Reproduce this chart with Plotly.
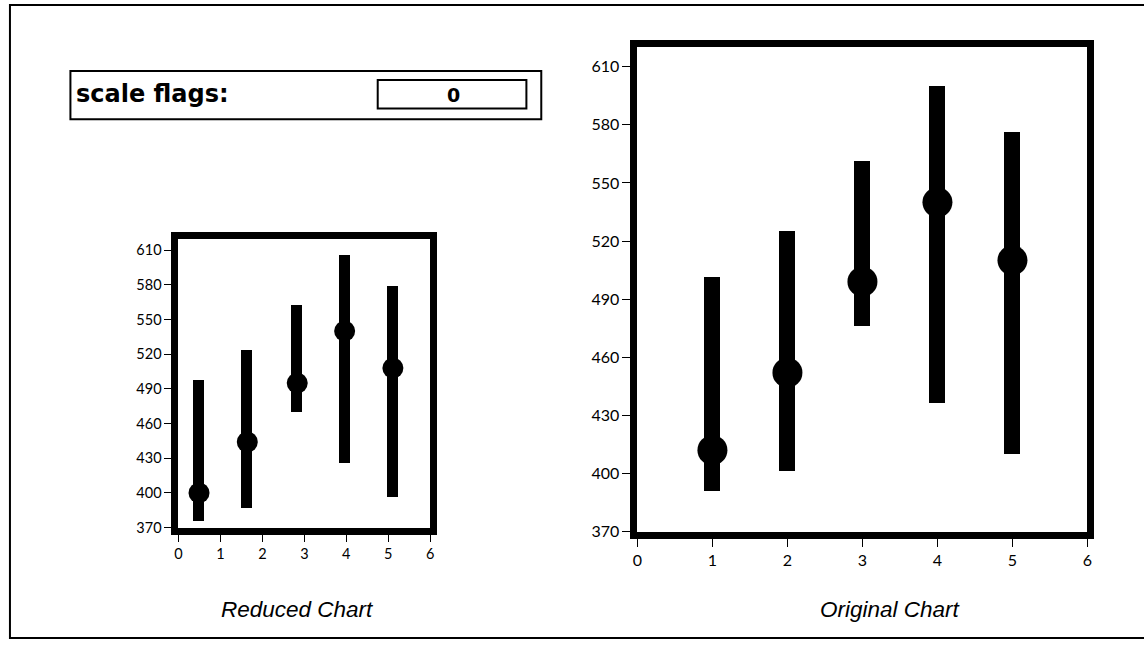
import plotly.graph_objects as go

W, H = 1144, 648

# ---- data ----
x_reduced = [0.49, 1.64, 2.83, 3.96, 5.11]
mean_reduced = [400, 444, 495, 540, 508]
low_reduced = [376, 387, 470, 426, 397]
high_reduced = [498, 524, 563, 606, 579]

x_original = [1, 2, 3, 4, 5]
mean_original = [412, 452, 499, 540, 510]
low_original = [391, 401, 476, 436, 410]
high_original = [501, 525, 561, 600, 576]

x_ticks = [0, 1, 2, 3, 4, 5, 6]
y_ticks = [370, 400, 430, 460, 490, 520, 550, 580, 610]
y_range = [370, 620]
x_range = [0, 6]

flag_label = "scale flags:"
flag_value = "0"
title_reduced = "Reduced Chart"
title_original = "Original Chart"


def px_x(p):
    return p / W


def px_y(p):
    return 1 - p / H


fig = go.Figure()

# reduced chart
fig.add_trace(go.Bar(
    x=x_reduced, base=low_reduced,
    y=[h - l for h, l in zip(high_reduced, low_reduced)],
    width=0.27, marker=dict(color="black", line=dict(width=0)),
    xaxis="x", yaxis="y", showlegend=False, hoverinfo="skip"))
fig.add_trace(go.Scatter(
    x=x_reduced, y=mean_reduced, mode="markers",
    marker=dict(color="black", size=21, symbol="circle"),
    xaxis="x", yaxis="y", showlegend=False))

# original chart
fig.add_trace(go.Bar(
    x=x_original, base=low_original,
    y=[h - l for h, l in zip(high_original, low_original)],
    width=0.225, marker=dict(color="black", line=dict(width=0)),
    xaxis="x2", yaxis="y2", showlegend=False, hoverinfo="skip"))
fig.add_trace(go.Scatter(
    x=x_original, y=mean_original, mode="markers",
    marker=dict(color="black", size=30, symbol="circle"),
    xaxis="x2", yaxis="y2", showlegend=False))

axis_common = dict(
    showline=True, linewidth=7, linecolor="black", mirror=True,
    ticks="outside", tickwidth=1, tickcolor="black",
    showgrid=False, zeroline=False, fixedrange=True,
)

fig.update_layout(
    width=W, height=H,
    margin=dict(l=0, r=0, t=0, b=0, pad=0),
    paper_bgcolor="white", plot_bgcolor="white",
    bargap=0,
    font=dict(family="Lato", color="black"),
    xaxis=dict(domain=[px_x(175), px_x(429)], range=x_range, tickvals=x_ticks,
               ticklen=7, tickfont=dict(size=14.5, family="Lato", color="black"),
               anchor="y", **axis_common),
    yaxis=dict(domain=[px_y(535), px_y(242)], range=y_range, tickvals=y_ticks,
               ticklen=7, tickfont=dict(size=14.5, family="Lato", color="black"),
               anchor="x", **axis_common),
    xaxis2=dict(domain=[px_x(638), px_x(1092)], range=x_range, tickvals=x_ticks,
                ticklen=8, tickfont=dict(size=16, family="Lato", color="black"),
                anchor="y2", **axis_common),
    yaxis2=dict(domain=[px_y(539), px_y(48)], range=y_range, tickvals=y_ticks,
                ticklen=8, tickfont=dict(size=16, family="Lato", color="black"),
                anchor="x2", **axis_common),
)

shapes = [
    # outer page border
    dict(type="rect", xref="paper", yref="paper",
         x0=px_x(5), x1=px_x(1160), y0=px_y(647), y1=px_y(5),
         line=dict(color="black", width=2)),
    # scale flags box
    dict(type="rect", xref="paper", yref="paper",
         x0=px_x(66), x1=px_x(541), y0=px_y(121), y1=px_y(72),
         line=dict(color="black", width=2)),
    dict(type="rect", xref="paper", yref="paper",
         x0=px_x(376), x1=px_x(526), y0=px_y(110), y1=px_y(81),
         line=dict(color="black", width=2)),
]
fig.update_layout(shapes=shapes)

annotations = [
    dict(text=flag_label, xref="paper", yref="paper", x=px_x(70), y=px_y(95),
         xanchor="left", yanchor="middle", showarrow=False,
         font=dict(family="DejaVu Sans", size=24, color="black", weight="bold")),
    dict(text=flag_value, xref="paper", yref="paper", x=px_x(452), y=px_y(96),
         xanchor="center", yanchor="middle", showarrow=False,
         font=dict(family="DejaVu Sans", size=19, color="black", weight="bold")),
    dict(text="<i>" + title_reduced + "</i>", xref="paper", yref="paper",
         x=px_x(295), y=px_y(618), xanchor="center", yanchor="middle", showarrow=False,
         font=dict(family="Liberation Sans", size=22.5, color="black")),
    dict(text="<i>" + title_original + "</i>", xref="paper", yref="paper",
         x=px_x(893), y=px_y(618), xanchor="center", yanchor="middle", showarrow=False,
         font=dict(family="Liberation Sans", size=22.5, color="black")),
]
fig.update_layout(annotations=annotations)

fig.write_html(
    "out.html",
    config={"displayModeBar": False},
    post_script="document.body.style.margin='0';document.body.style.overflow='hidden';",
)
